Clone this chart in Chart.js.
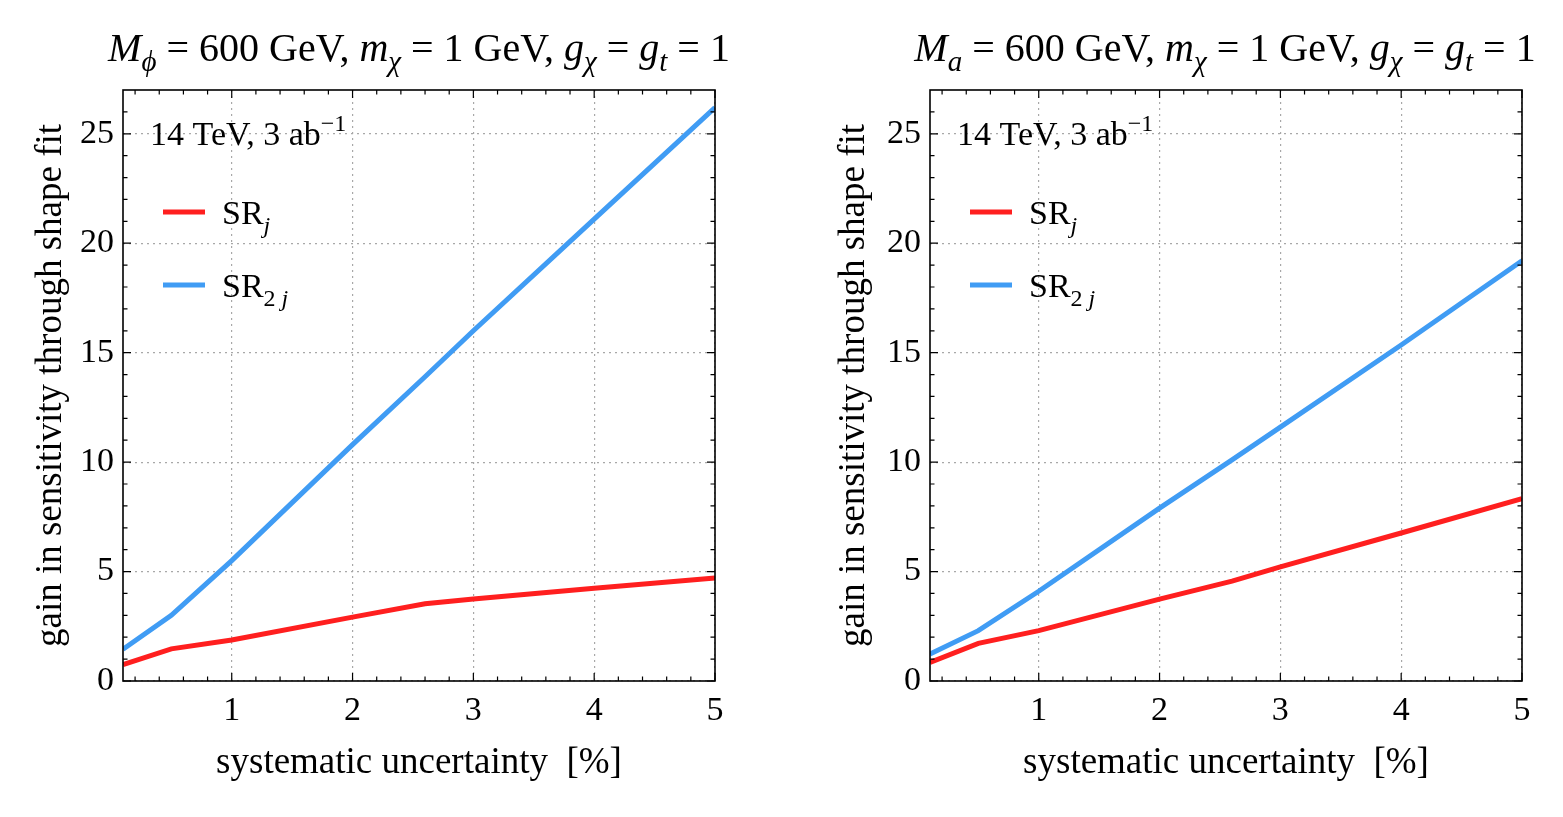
<!DOCTYPE html>
<html>
<head>
<meta charset="utf-8">
<script src="https://cdn.jsdelivr.net/npm/chart.js@4.4.1/dist/chart.umd.min.js"></script>
<style>
  html, body { margin: 0; padding: 0; background: #fff; }
  .panel { position: absolute; top: 0; height: 817px; }
  #left { left: 0; width: 781px; }
  #right { left: 781px; width: 782px; }
</style>
</head>
<body>
<div class="panel" id="left"><canvas id="chartScalar"></canvas></div>
<div class="panel" id="right"><canvas id="chartPseudo"></canvas></div>
<script>
// systematic uncertainty [%]
const uncertainty = [0.1, 0.5, 1, 2, 2.6, 3, 4, 5];

// left panel: scalar mediator M_phi = 600 GeV
const scalarSRj  = [0.75, 1.47, 1.87, 2.92, 3.53, 3.75, 4.24, 4.71];
const scalarSR2j = [1.45, 3.0, 5.5, 10.8, 13.9, 16.0, 21.1, 26.2];

// right panel: pseudoscalar mediator M_a = 600 GeV
const pseudoSRj  = [0.85, 1.72, 2.3, 3.74, 4.56, 5.21, 6.76, 8.33];
const pseudoSR2j = [1.23, 2.3, 4.1, 7.9, 10.1, 11.6, 15.35, 19.2];

const xTicks = [1, 2, 3, 4, 5];
const yTicks = [0, 5, 10, 15, 20, 25];
const xMinorTicks = [0.2, 0.4, 0.6, 0.8, 1.2, 1.4, 1.6, 1.8, 2.2, 2.4, 2.6, 2.8,
                     3.2, 3.4, 3.6, 3.8, 4.2, 4.4, 4.6, 4.8];
const yMinorTicks = [1, 2, 3, 4, 6, 7, 8, 9, 11, 12, 13, 14, 16, 17, 18, 19, 21, 22, 23, 24, 26];

const RED = "#ff1f1f";
const BLUE = "#409cf4";
const SERIF = "'Liberation Serif', 'Times New Roman', serif";

// draw text made of pieces: '' normal, 'i' italic, 'si' italic subscript,
// 's' subscript, 'p' superscript
function drawRich(ctx, parts, x, y, size, align) {
  const fontFor = (style) => {
    const small = style === "si" || style === "s" || style === "p";
    const italic = style === "i" || style === "si";
    return `${italic ? "italic " : ""}${small ? Math.round(size * 0.72) : size}px ${SERIF}`;
  };
  let total = 0;
  parts.forEach(([t, s]) => { ctx.font = fontFor(s); total += ctx.measureText(t).width; });
  let cx = align === "center" ? x - total / 2 : x;
  ctx.textAlign = "left";
  ctx.textBaseline = "alphabetic";
  parts.forEach(([t, s]) => {
    ctx.font = fontFor(s);
    let dy = 0;
    if (s === "si" || s === "s") dy = size * 0.25;
    if (s === "p") dy = -size * 0.42;
    ctx.fillText(t, cx, y + dy);
    cx += ctx.measureText(t).width;
  });
}

const panelDecor = {
  id: "panelDecor",
  afterDraw(chart, args, opts) {
    const { ctx, chartArea: a, scales: { x, y } } = chart;
    ctx.save();
    ctx.strokeStyle = "#000";
    ctx.fillStyle = "#000";

    // inward ticks on all four sides
    ctx.lineWidth = 1.2;
    const tick = (vals, len) => {
      vals.forEach((v) => {
        const px = x.getPixelForValue(v);
        ctx.beginPath();
        ctx.moveTo(px, a.bottom); ctx.lineTo(px, a.bottom - len);
        ctx.moveTo(px, a.top); ctx.lineTo(px, a.top + len);
        ctx.stroke();
      });
    };
    const tickY = (vals, len) => {
      vals.forEach((v) => {
        const py = y.getPixelForValue(v);
        ctx.beginPath();
        ctx.moveTo(a.left, py); ctx.lineTo(a.left + len, py);
        ctx.moveTo(a.right, py); ctx.lineTo(a.right - len, py);
        ctx.stroke();
      });
    };
    tick(xTicks, 8);
    tick(xMinorTicks, 4.5);
    tickY(yTicks, 8);
    tickY(yMinorTicks, 4.5);

    // frame
    ctx.lineWidth = 1.6;
    ctx.strokeRect(a.left, a.top, a.right - a.left, a.bottom - a.top);

    // title
    drawRich(ctx, opts.title, (a.left + a.right) / 2 + opts.titleShift, 61, 40, "center");

    // energy / luminosity note
    drawRich(ctx, [["14 TeV, 3 ab", ""], ["\u22121", "p"]], a.left + 27, 145, 34, "left");

    // legend
    chart.data.datasets.forEach((ds, i) => {
      const ly = a.top + 122 + i * 73;
      ctx.strokeStyle = ds.borderColor;
      ctx.lineWidth = 5;
      ctx.beginPath();
      ctx.moveTo(a.left + 40, ly);
      ctx.lineTo(a.left + 82, ly);
      ctx.stroke();
      drawRich(ctx, ds.richLabel, a.left + 99, ly + 12, 34, "left");
    });
    ctx.restore();
  },
};

function makeChart(id, srj, sr2j, title, titleShift, yAxisWidth, yTitlePad) {
  const ctx = document.getElementById(id).getContext("2d");
  const el = document.getElementById(id).parentElement;
  return new Chart(ctx, {
    type: "line",
    data: {
      labels: uncertainty,
      datasets: [
        {
          label: "SR_j",
          richLabel: [["SR", ""], ["j", "si"]],
          data: uncertainty.map((u, i) => ({ x: u, y: srj[i] })),
          borderColor: RED,
          borderWidth: 5,
          pointRadius: 0,
          tension: 0,
        },
        {
          label: "SR_2j",
          richLabel: [["SR", ""], ["2 ", "s"], ["j", "si"]],
          data: uncertainty.map((u, i) => ({ x: u, y: sr2j[i] })),
          borderColor: BLUE,
          borderWidth: 5,
          pointRadius: 0,
          tension: 0,
        },
      ],
    },
    options: {
      responsive: true,
      maintainAspectRatio: false,
      animation: false,
      layout: { padding: { top: 90, right: el.clientWidth - yAxisWidth - 592, left: 0, bottom: 0 } },
      plugins: {
        legend: { display: false },
        tooltip: { enabled: false },
        panelDecor: { title, titleShift },
      },
      scales: {
        x: {
          type: "linear",
          min: 0.1,
          max: 5,
          afterBuildTicks: (axis) => { axis.ticks = xTicks.map((v) => ({ value: v })); },
          afterFit: (scale) => { scale.height = 136; },
          ticks: { color: "#000", padding: 13, font: { family: SERIF, size: 34, lineHeight: 1 } },
          grid: { color: "#a8a8a8", lineWidth: 1.2, drawTicks: false },
          border: { display: false, dash: [2, 4] },
          title: {
            display: true,
            text: "systematic uncertainty  [%]",
            color: "#000",
            font: { family: SERIF, size: 37, lineHeight: 1 },
            padding: { top: 0, bottom: 35 },
          },
        },
        y: {
          min: 0,
          max: 27,
          afterBuildTicks: (axis) => { axis.ticks = yTicks.map((v) => ({ value: v })); },
          afterFit: (scale) => { scale.width = yAxisWidth; },
          ticks: { color: "#000", padding: 9, font: { family: SERIF, size: 34, lineHeight: 1 } },
          grid: { color: "#a8a8a8", lineWidth: 1.2, drawTicks: false },
          border: { display: false, dash: [2, 4] },
          title: {
            display: true,
            text: "gain in sensitivity through shape fit",
            color: "#000",
            font: { family: SERIF, size: 37, lineHeight: 1 },
            padding: { top: yTitlePad, bottom: 0 },
          },
        },
      },
    },
    plugins: [panelDecor],
  });
}

makeChart("chartScalar", scalarSRj, scalarSR2j,
  [["M", "i"], ["\u03d5", "si"], [" = 600 GeV, ", ""], ["m", "i"], ["\u03c7", "si"],
   [" = 1 GeV, ", ""], ["g", "i"], ["\u03c7", "si"], [" = ", ""], ["g", "i"], ["t", "si"], [" = 1", ""]],
  0, 123, 33);

makeChart("chartPseudo", pseudoSRj, pseudoSR2j,
  [["M", "i"], ["a", "si"], [" = 600 GeV, ", ""], ["m", "i"], ["\u03c7", "si"],
   [" = 1 GeV, ", ""], ["g", "i"], ["\u03c7", "si"], [" = ", ""], ["g", "i"], ["t", "si"], [" = 1", ""]],
  -1, 149, 55);
</script>
</body>
</html>
